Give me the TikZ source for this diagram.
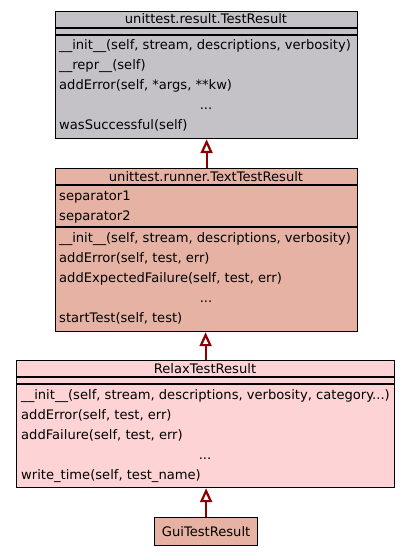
\documentclass[tikz,border=0pt]{standalone}
\usepackage{fontspec}
\setmainfont{DejaVu Sans}
\usetikzlibrary{arrows.meta}
\definecolor{baseclass}{RGB}{196,194,199}
\definecolor{runnerclass}{RGB}{229,178,164}
\definecolor{relaxclass}{RGB}{254,211,213}
\definecolor{inheritred}{RGB}{139,0,0}

\begin{document}
\begin{tikzpicture}[x=1pt, y=-1pt,
  every node/.style={font=\fontsize{13.1}{15}\selectfont, inner sep=0pt},
  class box/.style={draw, line width=1.2pt, anchor=north west},
  class name/.style={anchor=base},
  member/.style={anchor=base west},
  divider/.style={line width=1.2pt},
  inherit/.style={draw=inheritred, line width=2.2pt, -{Triangle[open, length=14pt, width=12pt]}}]
\fill[white] (0,0) rectangle (409,556);
\useasboundingbox (0,0) rectangle (409,556);

% Draw TestResult
\node [class box, fill=baseclass, minimum width=302pt, minimum height=127pt] (testresult) at (55,11) {};
\node [class name] (testresult-name) at (206,24) {unittest.result.TestResult};
\draw [divider] (55,28) -- (357,28) (55,35) -- (357,35);
\foreach \m [count=\i] in {{\_\_init\_\_(self, stream, descriptions, verbosity)}, {\_\_repr\_\_(self)}, {addError(self, *args, **kw)}}
  \node [member] (testresult-op\i) at (59,30+\i*20) {\m};
\node [class name] (testresult-more) at (206,110) {...};
\node [member] (testresult-last) at (59,130) {wasSuccessful(self)};

% Draw TextTestResult
\node [class box, fill=runnerclass, minimum width=302pt, minimum height=163pt] (texttestresult) at (55,168) {};
\node [class name] (texttestresult-name) at (206,181) {unittest.runner.TextTestResult};
\draw [divider] (55,185) -- (357,185) (55,227) -- (357,227);
\foreach \a [count=\i] in {separator1, separator2}
  \node [member] (texttestresult-attr\i) at (59,180+\i*20) {\a};
\foreach \m [count=\i] in {{\_\_init\_\_(self, stream, descriptions, verbosity)}, {addError(self, test, err)}, {addExpectedFailure(self, test, err)}}
  \node [member] (texttestresult-op\i) at (59,222+\i*20) {\m};
\node [class name] (texttestresult-more) at (206,302) {...};
\node [member] (texttestresult-last) at (59,322) {startTest(self, test)};

% Draw RelaxTestResult
\node [class box, fill=relaxclass, minimum width=378pt, minimum height=127pt] (relaxresult) at (16,360) {};
\node [class name] (relaxresult-name) at (205,373) {RelaxTestResult};
\draw [divider] (16,377) -- (394,377) (16,384) -- (394,384);
\foreach \m [count=\i] in {{\_\_init\_\_(self, stream, descriptions, verbosity, category.{}..)}, {addError(self, test, err)}, {addFailure(self, test, err)}}
  \node [member] (relaxresult-op\i) at (21,379+\i*20) {\m};
\node [class name] (relaxresult-more) at (205,459) {...};
\node [member] (relaxresult-last) at (21,479) {write\_time(self, test\_name)};

% Draw GuiTestResult
\node [class box, fill=runnerclass, minimum width=103pt, minimum height=28pt] (guiresult) at (154,517) {GuiTestResult};

% Connect subclasses with base classes
\draw [inherit] (texttestresult.north) -- (testresult.south);
\draw [inherit] (relaxresult.north) -- (relaxresult.north |- texttestresult.south);
\draw [inherit] (guiresult.north) -- (guiresult.north |- relaxresult.south);
\end{tikzpicture}
\end{document}
